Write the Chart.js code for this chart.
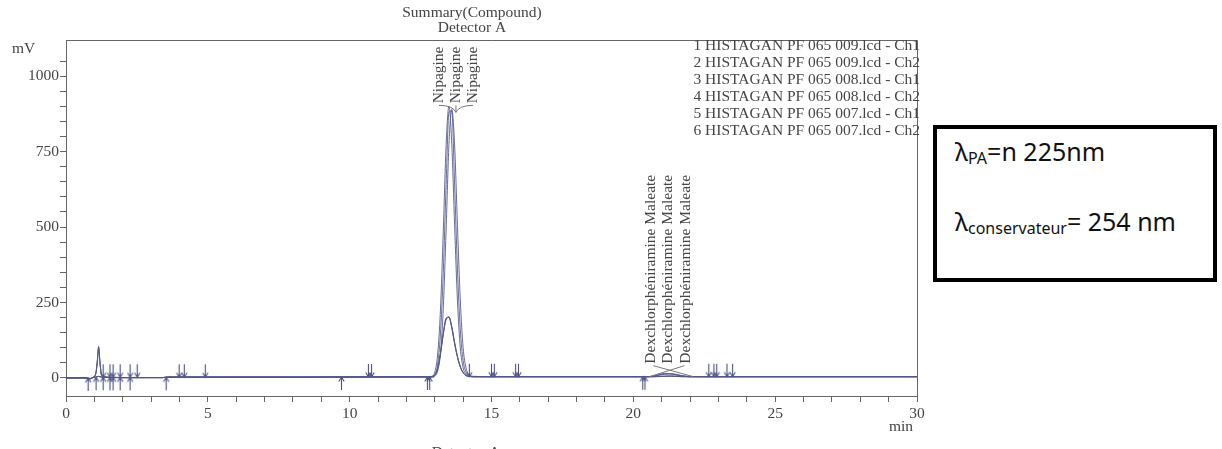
<!DOCTYPE html>
<html lang="fr">
<head>
<meta charset="UTF-8">
<title>Summary(Compound) - Detector A</title>
<script src="https://cdn.jsdelivr.net/npm/chart.js"></script>
<style>
    html, body {
        margin: 0;
        padding: 0;
        background: #fff;
    }

    body {
        width: 1222px;
        height: 449px;
        position: relative;
        overflow: hidden;
    }

    .chart-wrap {
        position: absolute;
        left: 0;
        top: 0;
        width: 930px;
        height: 449px;
    }

    /* wavelength box on the right */
    .lambda-box {
        position: absolute;
        left: 933px;
        top: 125px;
        width: 276px;
        height: 149px;
        border: 4px solid #000;
        font-family: "Noto Sans", sans-serif;
        color: #111;
    }

    .lambda-box .ln {
        position: absolute;
        left: 18px;
        font-size: 25px;
        line-height: 1;
        white-space: nowrap;
    }

    .lambda-box sub {
        font-size: 16px;
        vertical-align: -3px;
    }
</style>
</head>
<body>
    <div class="chart-wrap">
        <canvas id="chromChart"></canvas>
    </div>

    <div class="lambda-box">
        <div class="ln" style="top:10px;">λ<sub>PA</sub>=n 225nm</div>
        <div class="ln" style="top:80px;">λ<sub>conservateur</sub>= 254 nm</div>
    </div>

<script>
    // ---- data ----
    const fileNames = [
        '1 HISTAGAN PF 065 009.lcd - Ch1',
        '2 HISTAGAN PF 065 009.lcd - Ch2',
        '3 HISTAGAN PF 065 008.lcd - Ch1',
        '4 HISTAGAN PF 065 008.lcd - Ch2',
        '5 HISTAGAN PF 065 007.lcd - Ch1',
        '6 HISTAGAN PF 065 007.lcd - Ch2'
    ];

    // retention time (min)
    const times = [0, 0.7, 0.85, 0.95, 1.05, 1.1, 1.15, 1.2, 1.25, 1.35, 1.6, 2.0, 2.5, 3.4, 3.6, 5, 8, 10, 12, 12.8,
        12.9, 13.0, 13.1, 13.2, 13.3, 13.4, 13.5, 13.6, 13.7, 13.8, 13.9, 14.0, 14.1, 14.2, 14.4,
        15, 18, 20.4, 20.7, 20.9, 21.1, 21.3, 21.5, 21.7, 22.0, 22.5, 25, 30];

    // signal (mV), one array per file/channel
    const trace1 = [0, 0, -2, 1, 3, 4, 5, 4, 3, 2, 1, 1, 1, 1, 2, 2, 2, 3, 3, 3,
        4, 19, 76, 224, 485, 771, 900, 775, 505, 255, 100, 34, 12, 6, 4,
        4, 4, 4, 4, 5, 6, 6, 5, 4, 4, 4, 4, 4];
    const trace2 = [0, 0, -3, 2, 15, 55, 105, 50, 12, 3, 2, 1, 1, 1, 3, 3, 3, 3, 4, 4,
        5, 10, 32, 82, 150, 198, 200, 165, 112, 68, 36, 17, 8, 5, 4,
        4, 4, 4, 6, 11, 15, 14, 10, 6, 4, 4, 4, 4];
    const trace3 = [0, 0, -2, 1, 3, 4, 5, 4, 3, 2, 1, 1, 1, 1, 2, 2, 2, 3, 3, 3,
        3, 10, 45, 145, 350, 640, 880, 885, 640, 360, 160, 58, 20, 8, 4,
        4, 4, 4, 4, 5, 5, 6, 5, 4, 4, 4, 4, 4];
    const trace4 = [0, 0, -3, 2, 14, 50, 100, 48, 11, 3, 2, 1, 1, 1, 3, 3, 3, 3, 4, 4,
        5, 9, 30, 80, 146, 195, 203, 168, 115, 70, 37, 17, 8, 5, 4,
        4, 4, 4, 5, 10, 13, 14, 11, 7, 4, 4, 4, 4];
    const trace5 = [0, 0, -2, 1, 3, 4, 5, 4, 3, 2, 1, 1, 1, 1, 2, 2, 2, 3, 3, 3,
        2, 5, 22, 80, 230, 490, 775, 890, 772, 505, 258, 100, 34, 12, 5,
        4, 4, 4, 4, 4, 5, 6, 6, 5, 4, 4, 4, 4];
    const trace6 = [0, 0, -3, 2, 13, 48, 98, 47, 11, 3, 2, 1, 1, 1, 3, 3, 3, 3, 4, 4,
        5, 9, 29, 78, 144, 193, 201, 170, 118, 72, 38, 18, 8, 5, 4,
        4, 4, 4, 5, 9, 12, 13, 12, 8, 5, 4, 4, 4];
    const traces = [trace1, trace2, trace3, trace4, trace5, trace6];

    // integration marks [time, mV]
    const downMarks = [[1.31, 2], [1.55, 2], [1.66, 2], [1.91, 2], [2.26, 2], [2.51, 2], [3.99, 2], [4.17, 2], [4.91, 2],
        [10.66, 3], [10.77, 3], [14.22, 4], [15.0, 4], [15.1, 4], [15.85, 4], [15.95, 4],
        [22.66, 4], [22.84, 4], [22.94, 4], [23.3, 4], [23.5, 4]];
    const upMarks = [[0.78, 0], [1.06, 2], [1.31, 2], [1.55, 2], [1.66, 2], [1.91, 2], [2.26, 2], [3.53, 2],
        [9.71, 3], [12.74, 3], [12.82, 3], [20.33, 4], [20.41, 4]];

    // peak names: [name, time, apex mV]
    const peakNipagine = ['Nipagine', 13.5, 900];
    const peakDex = ['Dexchlorphéniramine Maleate', 21.2, 14];

    const yTickLabels = [0, 250, 500, 750, 1000];
    const xTickLabels = [0, 5, 10, 15, 20, 25, 30];

    const serif = '"Liberation Serif", "DejaVu Serif", serif';
    const fontPx = 15.5;
    const inkText = '#454545';
    const inkAxis = '#666';
    const inkTrace = 'rgba(84, 88, 135, 0.88)';

    function arrowCanvas(dir) {
        const c = document.createElement('canvas');
        c.width = 9;
        c.height = 30;
        const g = c.getContext('2d');
        g.strokeStyle = '#4b5080';
        g.lineWidth = 1.1;
        g.beginPath();
        if (dir === 'down') {
            g.moveTo(4.5, 2); g.lineTo(4.5, 15);
            g.moveTo(1.8, 10.5); g.lineTo(4.5, 15); g.lineTo(7.2, 10.5);
        } else {
            g.moveTo(4.5, 28); g.lineTo(4.5, 15);
            g.moveTo(1.8, 19.5); g.lineTo(4.5, 15); g.lineTo(7.2, 19.5);
        }
        g.stroke();
        return c;
    }

    // frame (top + right) like the printout
    const framePlugin = {
        id: 'frame',
        afterDraw(chart) {
            const a = chart.chartArea, ctx = chart.ctx;
            ctx.save();
            ctx.strokeStyle = inkAxis;
            ctx.lineWidth = 1;
            ctx.beginPath();
            ctx.moveTo(a.left, a.top + 0.5);
            ctx.lineTo(a.right + 0.5, a.top + 0.5);
            ctx.lineTo(a.right + 0.5, a.bottom);
            ctx.stroke();
            ctx.restore();
        }
    };

    function vText(ctx, text, x, y) {
        ctx.save();
        ctx.translate(x, y);
        ctx.rotate(-Math.PI / 2);
        ctx.textAlign = 'left';
        ctx.textBaseline = 'middle';
        ctx.fillText(text, 0, 0);
        ctx.restore();
    }

    const textPlugin = {
        id: 'texts',
        afterDraw(chart) {
            const ctx = chart.ctx;
            const xs = chart.scales.x, ys = chart.scales.y;
            ctx.save();
            ctx.fillStyle = inkText;
            ctx.font = fontPx + 'px ' + serif;
            ctx.textBaseline = 'middle';

            // titles
            ctx.textAlign = 'center';
            ctx.fillText('Summary(Compound)', 472, 13);
            ctx.fillText('Detector A', 472, 28);
            ctx.fillText('Detector A', 466, 453);

            ctx.textAlign = 'left';
            ctx.fillText('mV', 12, 49);
            ctx.textAlign = 'right';
            ctx.fillText('min', 913, 427);

            // file list
            fileNames.forEach((n, i) => ctx.fillText(n, 920, 46 + i * 17));

            // Nipagine labels
            ctx.strokeStyle = '#777';
            ctx.lineWidth = 1;
            let px = xs.getPixelForValue(peakNipagine[1]);
            let py = ys.getPixelForValue(peakNipagine[2]);
            const nOff = [-10, 7, 24];
            nOff.forEach(o => vText(ctx, peakNipagine[0], px + o, py - 3));
            ctx.beginPath();
            ctx.moveTo(px + nOff[0], py - 1);
            ctx.quadraticCurveTo(px + 4, py - 1, px + 7, py + 6);
            ctx.moveTo(px + nOff[2], py - 1);
            ctx.quadraticCurveTo(px + 10, py - 1, px + 7, py + 6);
            ctx.moveTo(px + 7, py - 1);
            ctx.lineTo(px + 7, py + 6);
            ctx.stroke();

            // Dexchlorphéniramine labels
            px = xs.getPixelForValue(peakDex[1]);
            py = ys.getPixelForValue(peakDex[2]);
            const dOff = [-16, 1, 19];
            dOff.forEach(o => vText(ctx, peakDex[0], px + o, py - 10));
            const base = ys.getPixelForValue(4);
            ctx.beginPath();
            ctx.moveTo(px + dOff[0] + 2, py - 8);
            ctx.lineTo(px + 26, base);
            ctx.moveTo(px + dOff[2] - 2, py - 8);
            ctx.lineTo(px - 18, base);
            ctx.stroke();
            ctx.restore();
        }
    };

    const lineSets = traces.map((tr, k) => ({
        type: 'line',
        label: fileNames[k],
        data: times.map((t, i) => ({ x: t, y: tr[i] })),
        borderColor: inkTrace,
        borderWidth: 1,
        pointRadius: 0,
        cubicInterpolationMode: 'monotone',
        fill: false
    }));

    const markSets = [
        { marks: downMarks, dir: 'down' },
        { marks: upMarks, dir: 'up' }
    ].map(m => ({
        type: 'scatter',
        label: 'marks-' + m.dir,
        data: m.marks.map(p => ({ x: p[0], y: p[1] })),
        pointStyle: arrowCanvas(m.dir),
        pointRadius: 5,
        showLine: false,
        clip: false
    }));

    new Chart(document.getElementById('chromChart'), {
        data: { datasets: lineSets.concat(markSets) },
        options: {
            responsive: true,
            maintainAspectRatio: false,
            animation: false,
            events: [],
            layout: { padding: { left: 0, top: 40, right: 13, bottom: 0 } },
            plugins: {
                legend: { display: false },
                tooltip: { enabled: false }
            },
            scales: {
                x: {
                    type: 'linear',
                    min: 0,
                    max: 30,
                    afterBuildTicks: s => { s.ticks = s.ticks.filter(t => Number.isInteger(t.value)); },
                    afterFit: s => { s.height = 53; },
                    ticks: {
                        stepSize: 1,
                        autoSkip: false,
                        maxRotation: 0,
                        padding: 3,
                        color: inkText,
                        font: { family: serif, size: fontPx },
                        callback: v => xTickLabels.includes(v) ? String(v) : ''
                    },
                    grid: { drawOnChartArea: false, tickLength: 6, color: inkAxis },
                    border: { color: inkAxis }
                },
                y: {
                    type: 'linear',
                    min: -60,
                    max: 1120,
                    afterBuildTicks: s => { s.ticks = s.ticks.filter(t => t.value % 50 === 0); },
                    afterFit: s => { s.width = 66; },
                    ticks: {
                        stepSize: 50,
                        autoSkip: false,
                        padding: 1,
                        color: inkText,
                        font: { family: serif, size: fontPx },
                        callback: v => yTickLabels.includes(v) ? String(v) : ''
                    },
                    grid: { drawOnChartArea: false, tickLength: 6, color: inkAxis },
                    border: { color: inkAxis }
                }
            }
        },
        plugins: [framePlugin, textPlugin]
    });
</script>
</body>
</html>
